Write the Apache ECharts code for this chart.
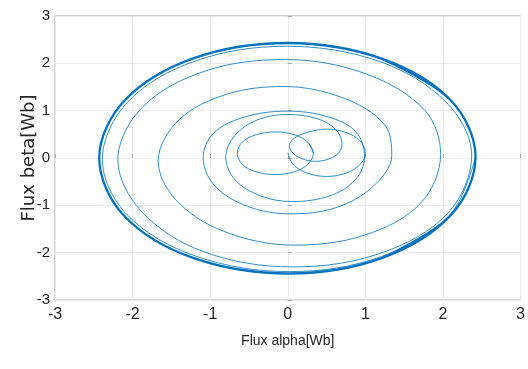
<!DOCTYPE html>
<html>
<head>
<meta charset="utf-8">
<script src="https://cdn.jsdelivr.net/npm/echarts@6/dist/echarts.min.js"></script>
<style>
  html, body { margin: 0; padding: 0; background: #ffffff; }
  #chart { width: 528px; height: 369px; }
</style>
</head>
<body>
<div id="chart"></div>
<script>
// Axis ticks
const alphaTicks = [-3, -2, -1, 0, 1, 2, 3];
const betaTicks = [-3, -2, -1, 0, 1, 2, 3];

// Flux trajectory points [alpha, beta] in Wb
// a separate small loop left of the origin
const innerLoop = [
  [0.33, 0.10], [0.26, 0.33], [0.09, 0.49], [-0.16, 0.55], [-0.41, 0.49],
  [-0.59, 0.33], [-0.65, 0.10], [-0.59, -0.13], [-0.41, -0.29], [-0.16, -0.35],
  [0.09, -0.29], [0.26, -0.13], [0.33, 0.10], [0.26, 0.33]
];

// start-up turns of the spiral (from the origin outwards)
const startTurns = [
  [0.00, 0.11], [0.07, -0.14], [0.25, -0.32], [0.50, -0.39], [0.75, -0.32],
  [0.93, -0.14], [1.00, 0.11], [0.93, 0.36], [0.75, 0.54], [0.50, 0.61],
  [0.25, 0.54], [0.07, 0.40], [0.02, 0.25], [0.07, 0.10], [0.19, -0.02],
  [0.36, -0.07], [0.53, -0.02], [0.65, 0.10], [0.70, 0.27], [0.62, 0.60],
  [0.38, 0.83], [0.00, 0.92], [-0.40, 0.80], [-0.68, 0.48], [-0.80, 0.02],
  [-0.68, -0.46], [-0.35, -0.80], [0.05, -0.92], [0.54, -0.80], [0.87, -0.46],
  [0.99, 0.02], [0.88, 0.55], [0.52, 0.87], [-0.01, 0.99], [-0.57, 0.86],
  [-0.96, 0.52], [-1.09, 0.00], [-0.94, -0.59], [-0.52, -1.02], [0.03, -1.18],
  [0.62, -1.05], [1.10, -0.60], [1.34, 0.05]
];

// growing outer turns of the spiral
const outerTurns = [
  [1.25, 0.70], [0.73, 1.26], [-0.05, 1.51], [-0.78, 1.35], [-1.40, 0.81],
  [-1.67, -0.06], [-1.45, -0.87], [-0.84, -1.54], [0.08, -1.84], [0.99, -1.63],
  [1.71, -0.96], [1.97, 0.08], [1.77, 1.00], [1.02, 1.77], [-0.03, 2.08],
  [-1.06, 1.84], [-1.87, 1.08], [-2.19, -0.04], [-1.89, -1.12], [-1.10, -1.97],
  [0.06, -2.30], [1.20, -2.01], [2.06, -1.17], [2.37, 0.06], [2.04, 1.18],
  [1.18, 2.04], [-0.02, 2.36], [-1.19, 2.05], [-2.06, 1.19], [-2.39, -0.03],
  [-2.07, -1.20], [-1.19, -2.07], [0.03, -2.40], [1.21, -2.08], [2.09, -1.20],
  [2.42, 0.02]
];

// steady-state circle (traced several times -> thick)
const steadyState = [
  [1.22, -2.11], [2.10, -1.21], [2.42, 0.02], [2.10, 1.22], [1.21, 2.10],
  [0.00, 2.43], [-1.21, 2.11], [-2.10, 1.22], [-2.43, 0.00], [-2.11, -1.22],
  [-1.22, -2.11], [0.02, -2.44], [1.22, -2.11], [2.10, -1.21], [2.42, 0.02],
  [2.10, 1.22], [1.21, 2.10]
];

const lineColor = '#0072BD';
const tickFont = "'Liberation Sans', Arial, sans-serif";

const chart = echarts.init(document.getElementById('chart'), null, { renderer: 'canvas' });
chart.setOption({
  animation: false,
  backgroundColor: '#ffffff',
  grid: {
    left: 55, right: 7, top: 16, bottom: 69,
    show: true, borderColor: '#a6a6a6', borderWidth: 1, backgroundColor: 'transparent'
  },
  xAxis: {
    type: 'value',
    min: alphaTicks[0], max: alphaTicks[alphaTicks.length - 1], interval: 1,
    name: 'Flux alpha[Wb]',
    nameLocation: 'middle',
    nameGap: 34,
    nameMoveOverlap: false,
    nameTextStyle: { color: '#262626', fontSize: 14, fontFamily: tickFont },
    axisLine: { show: false },
    axisTick: { show: true, inside: true, length: 4, lineStyle: { color: '#a6a6a6' } },
    axisLabel: { color: '#262626', fontSize: 16, margin: 7, fontFamily: tickFont },
    splitLine: { show: true, lineStyle: { color: '#ececec', width: 1 } }
  },
  yAxis: {
    type: 'value',
    min: betaTicks[0], max: betaTicks[betaTicks.length - 1], interval: 1,
    name: 'Flux beta[Wb]',
    nameLocation: 'middle',
    nameGap: 17,
    nameMoveOverlap: false,
    nameTextStyle: { color: '#262626', fontSize: 18, fontFamily: "'DejaVu Sans', sans-serif" },
    axisLine: { show: false },
    axisTick: { show: true, inside: true, length: 4, lineStyle: { color: '#a6a6a6' } },
    axisLabel: { color: '#262626', fontSize: 15, margin: 5, fontFamily: tickFont },
    splitLine: { show: true, lineStyle: { color: '#ececec', width: 1 } }
  },
  series: [
    {
      type: 'line', data: innerLoop, smooth: 0.35, showSymbol: false, symbol: 'none',
      lineStyle: { color: lineColor, width: 0.8 }, z: 3
    },
    {
      type: 'line', data: startTurns.concat(outerTurns), smooth: 0.35, showSymbol: false, symbol: 'none',
      lineStyle: { color: lineColor, width: 0.8 }, z: 3
    },
    {
      type: 'line', data: steadyState, smooth: 0.35, showSymbol: false, symbol: 'none',
      lineStyle: { color: lineColor, width: 2.3 }, z: 4
    }
  ]
});
</script>
</body>
</html>
